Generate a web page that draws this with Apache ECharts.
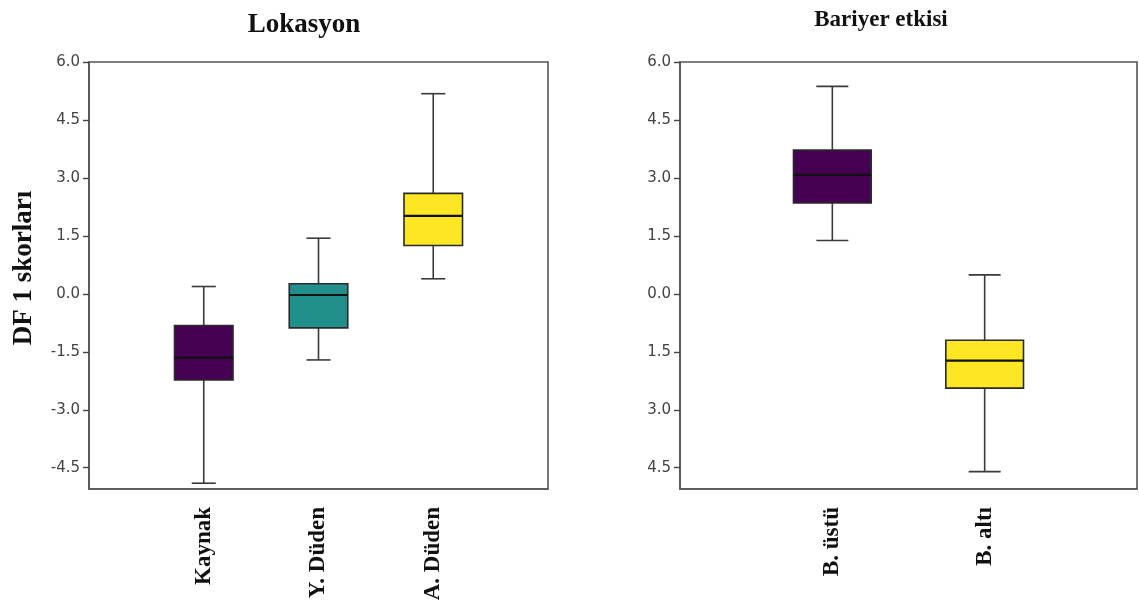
<!DOCTYPE html>
<html>
<head>
<meta charset="utf-8">
<script src="https://cdn.jsdelivr.net/npm/echarts@6/dist/echarts.min.js"></script>
<style>html,body{margin:0;padding:0;background:#fff}#c{width:1139px;height:608px}</style>
</head>
<body>
<div id="c"></div>
<script>
// ---- data ----
const leftTitle = 'Lokasyon';
const rightTitle = 'Bariyer etkisi';
const yName = 'DF 1 skorları';
const leftCategories = ['', 'Kaynak', 'Y. Düden', 'A. Düden', ' '];
const rightCategories = ['', 'B. üstü', 'B. altı', ' '];
// [min, Q1, median, Q3, max]
const kaynak = [-4.90, -2.23, -1.65, -0.82, 0.19];
const yDuden = [-1.71, -0.88, -0.03, 0.26, 1.44];
const aDuden = [0.39, 1.25, 2.02, 2.60, 5.18];
const bUstu = [1.38, 2.35, 3.08, 3.72, 5.37];
const bAlti = [-4.60, -2.44, -1.73, -1.20, 0.49];
const tickValues = [-4.5, -3.0, -1.5, 0.0, 1.5, 3.0, 4.5, 6.0];
const leftTickLabels = ['-4.5', '-3.0', '-1.5', '0.0', '1.5', '3.0', '4.5', '6.0'];
const rightTickLabels = ['4.5', '3.0', '1.5', '0.0', '1.5', '3.0', '4.5', '6.0'];
const colors = ['#440154', '#21908c', '#fde725'];

function renderBox(params, api) {
  const x = api.value(0);
  const lo = api.coord([x, api.value(1)]);
  const q1 = api.coord([x, api.value(2)]);
  const med = api.coord([x, api.value(3)]);
  const q3 = api.coord([x, api.value(4)]);
  const hi = api.coord([x, api.value(5)]);
  const band = api.size([1, 0], [x, 0])[0];
  const half = band * 0.255;
  const cap = band * 0.105;
  const cx = lo[0];
  const ls = { stroke: '#3a3a3a', lineWidth: 1.6 };
  return {
    type: 'group',
    children: [
      { type: 'line', shape: { x1: cx, y1: hi[1], x2: cx, y2: q3[1] }, style: ls },
      { type: 'line', shape: { x1: cx, y1: q1[1], x2: cx, y2: lo[1] }, style: ls },
      { type: 'line', shape: { x1: cx - cap, y1: hi[1], x2: cx + cap, y2: hi[1] }, style: ls },
      { type: 'line', shape: { x1: cx - cap, y1: lo[1], x2: cx + cap, y2: lo[1] }, style: ls },
      { type: 'rect', shape: { x: cx - half, y: q3[1], width: 2 * half, height: q1[1] - q3[1] },
        style: { fill: api.visual('color'), stroke: '#2a2a2a', lineWidth: 1.6 } },
      { type: 'line', shape: { x1: cx - half, y1: med[1], x2: cx + half, y2: med[1] },
        style: { stroke: '#111', lineWidth: 2.2 } }
    ]
  };
}

function item(idx, arr, color) {
  return { value: [idx].concat(arr), itemStyle: { color: color } };
}

const yMin = -5.05, yMax = 6.0;
function yAxis(gridIndex, labels) {
  return {
    type: 'value', gridIndex: gridIndex, min: yMin, max: yMax,
    axisLine: { show: true, lineStyle: { color: '#555', width: 1.6 } },
    axisTick: { show: true, length: 6, customValues: tickValues, lineStyle: { color: '#444', width: 1.4 } },
    axisLabel: {
      customValues: tickValues, margin: 9, color: '#444',
      fontFamily: 'DejaVu Sans', fontSize: 15,
      formatter: function (v) {
        let i = tickValues.findIndex(t => Math.abs(t - v) < 1e-6);
        return i >= 0 ? labels[i] : '';
      }
    },
    splitLine: { show: false }
  };
}
function xAxis(gridIndex, cats) {
  return {
    type: 'category', gridIndex: gridIndex, data: cats, boundaryGap: false,
    axisLine: { show: true, onZero: false, lineStyle: { color: '#555', width: 1.6 } },
    axisTick: { show: false },
    axisLabel: {
      interval: 0, rotate: 90, margin: 18, color: '#111',
      fontFamily: 'Liberation Serif', fontWeight: 'bold', fontSize: 23
    },
    splitLine: { show: false }
  };
}

const chart = echarts.init(document.getElementById('c'), null, { renderer: 'canvas' });
chart.setOption({
  animation: false,
  backgroundColor: '#fff',
  grid: [
    { left: 89, top: 62, width: 459, height: 427, outerBoundsMode: 'none', containLabel: false,
      show: true, borderColor: '#555', borderWidth: 1.6, backgroundColor: '#fff' },
    { left: 680, top: 62, width: 457, height: 427, outerBoundsMode: 'none', containLabel: false,
      show: true, borderColor: '#555', borderWidth: 1.6, backgroundColor: '#fff' }
  ],
  xAxis: [xAxis(0, leftCategories), xAxis(1, rightCategories)],
  yAxis: [yAxis(0, leftTickLabels), yAxis(1, rightTickLabels)],
  graphic: [
    { type: 'text', x: 304, y: 12, style: { text: leftTitle, textAlign: 'center', textVerticalAlign: 'top',
      font: 'bold 27px "Liberation Serif"', fill: '#111' } },
    { type: 'text', x: 881, y: 9, style: { text: rightTitle, textAlign: 'center', textVerticalAlign: 'top',
      font: 'bold 23px "Liberation Serif"', fill: '#111' } },
    { type: 'text', x: 24, y: 268, rotation: Math.PI / 2, style: { text: yName, textAlign: 'center', textVerticalAlign: 'middle',
      font: 'bold 27px "Liberation Serif"', fill: '#111' } }
  ],
  series: [
    {
      type: 'custom', xAxisIndex: 0, yAxisIndex: 0, renderItem: renderBox,
      data: [item(1, kaynak, colors[0]), item(2, yDuden, colors[1]), item(3, aDuden, colors[2])]
    },
    {
      type: 'custom', xAxisIndex: 1, yAxisIndex: 1, renderItem: renderBox,
      data: [item(1, bUstu, colors[0]), item(2, bAlti, colors[2])]
    }
  ]
});
</script>
</body>
</html>
